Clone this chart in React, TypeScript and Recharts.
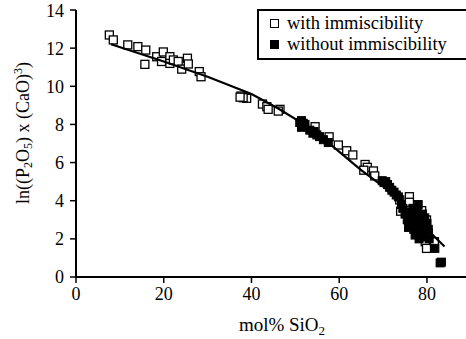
import React from "react";
import { ScatterChart, Scatter, XAxis, YAxis } from "recharts";

const withImm: { x: number; y: number }[] = [
  { x: 7.6, y: 12.69 }, { x: 8.5, y: 12.43 }, { x: 11.8, y: 12.17 }, { x: 14.1, y: 12.08 },
  { x: 15.9, y: 11.9 }, { x: 15.7, y: 11.15 }, { x: 18.4, y: 11.55 }, { x: 19.9, y: 11.8 },
  { x: 19.5, y: 11.3 }, { x: 21.4, y: 11.55 }, { x: 21.4, y: 11.2 }, { x: 22.2, y: 11.38 },
  { x: 23.3, y: 11.3 }, { x: 24.1, y: 10.9 }, { x: 25.4, y: 11.47 }, { x: 25.6, y: 11.17 },
  { x: 28.1, y: 10.77 }, { x: 28.5, y: 10.5 }, { x: 37.6, y: 9.49 }, { x: 38.9, y: 9.37 },
  { x: 38.1, y: 9.4 }, { x: 42.5, y: 9.07 }, { x: 43.5, y: 8.93 }, { x: 43.8, y: 8.79 },
  { x: 46.5, y: 8.79 }, { x: 46.1, y: 8.7 }, { x: 54.5, y: 7.88 }, { x: 57.7, y: 7.35 },
  { x: 59.8, y: 6.92 }, { x: 61.7, y: 6.62 }, { x: 63.1, y: 6.4 }, { x: 65.9, y: 5.9 },
  { x: 66.4, y: 5.75 }, { x: 65.6, y: 5.6 }, { x: 67.8, y: 5.56 }, { x: 68.1, y: 5.3 },
  { x: 73.8, y: 4.04 }, { x: 76.0, y: 4.21 }, { x: 76.0, y: 3.92 }, { x: 74.0, y: 3.45 },
  { x: 78.8, y: 3.48 }, { x: 78.5, y: 3.2 }, { x: 79.9, y: 2.99 }, { x: 80.3, y: 2.3 },
  { x: 79.6, y: 1.85 }, { x: 79.9, y: 1.5 }, { x: 81.7, y: 1.85 }, { x: 76.2, y: 3.35 },
  { x: 77.6, y: 2.63 }, { x: 76.8, y: 2.9 }, { x: 37.4, y: 9.43 },
];

const withoutImm: { x: number; y: number }[] = [
  { x: 51.4, y: 8.2 }, { x: 51.8, y: 8.06 }, { x: 51.4, y: 7.85 }, { x: 51.0, y: 8.1 },
  { x: 52.2, y: 8.0 }, { x: 53.3, y: 7.7 }, { x: 54.0, y: 7.54 }, { x: 54.9, y: 7.45 },
  { x: 55.5, y: 7.36 }, { x: 56.4, y: 7.2 }, { x: 57.5, y: 7.05 }, { x: 54.3, y: 7.63 },
  { x: 69.8, y: 5.05 }, { x: 70.2, y: 4.95 }, { x: 70.6, y: 5.0 }, { x: 71.0, y: 4.85 },
  { x: 71.5, y: 4.7 }, { x: 72.0, y: 4.55 }, { x: 72.5, y: 4.45 }, { x: 73.0, y: 4.3 },
  { x: 73.5, y: 4.2 }, { x: 74.2, y: 3.8 }, { x: 74.5, y: 3.6 }, { x: 75.0, y: 3.3 },
  { x: 75.5, y: 3.0 }, { x: 76.0, y: 3.4 }, { x: 76.3, y: 2.8 }, { x: 76.5, y: 3.1 },
  { x: 77.0, y: 2.5 }, { x: 77.0, y: 3.2 }, { x: 77.3, y: 2.2 }, { x: 77.5, y: 2.9 },
  { x: 77.8, y: 3.5 }, { x: 78.0, y: 3.8 }, { x: 78.0, y: 2.6 }, { x: 78.2, y: 2.0 },
  { x: 78.5, y: 3.0 }, { x: 78.7, y: 2.4 }, { x: 79.0, y: 3.3 }, { x: 79.0, y: 2.1 },
  { x: 79.3, y: 2.7 }, { x: 79.5, y: 3.1 }, { x: 79.8, y: 2.3 }, { x: 80.0, y: 2.8 },
  { x: 80.3, y: 2.5 }, { x: 80.5, y: 2.0 }, { x: 76.8, y: 3.6 }, { x: 75.8, y: 2.6 },
  { x: 81.8, y: 1.5 }, { x: 83.3, y: 0.78 }, { x: 83.0, y: 0.74 },
];

const fitLine: { x: number; y: number }[] = [
  { x: 8, y: 12.2 }, { x: 20, y: 11.3 }, { x: 30, y: 10.5 }, { x: 40, y: 9.6 },
  { x: 46, y: 8.85 }, { x: 52, y: 8.0 }, { x: 58, y: 6.95 }, { x: 65, y: 5.6 },
  { x: 70, y: 4.75 }, { x: 75, y: 3.7 }, { x: 80, y: 2.5 }, { x: 84, y: 1.6 },
];

const xTicks = [0, 20, 40, 60, 80];
const yTicks = [0, 2, 4, 6, 8, 10, 12, 14];

const FONT = "'Times New Roman', 'Liberation Serif', 'DejaVu Serif', serif";

const OpenSquare = (p: any) => (
  <rect x={p.cx - 4} y={p.cy - 4} width={8} height={8} fill="#fff" stroke="#000" strokeWidth={1.3} />
);
const FilledSquare = (p: any) => (
  <rect x={p.cx - 4} y={p.cy - 4} width={8} height={8} fill="#000" stroke="#000" strokeWidth={1} />
);
const NoShape = () => <g />;

const XLabel = () => (
  <text x={282} y={331} textAnchor="middle" fontFamily={FONT} fontSize={19} fill="#000">
    mol% SiO<tspan dy={4} fontSize={13}>2</tspan>
  </text>
);

const YLabel = () => (
  <text
    x={0}
    y={0}
    transform="translate(29,133) rotate(-90)"
    textAnchor="middle"
    fontFamily={FONT}
    fontSize={18}
    fill="#000"
  >
    ln((P<tspan dy={3} fontSize={12}>2</tspan>
    <tspan dy={-3}>O</tspan>
    <tspan dy={3} fontSize={12}>5</tspan>
    <tspan dy={-3}>) x (CaO)</tspan>
    <tspan dy={-7} fontSize={12}>3</tspan>
    <tspan dy={7}>)</tspan>
  </text>
);

export default function App() {
  return (
    <div style={{ position: "absolute", left: 0, top: 0, width: 466, height: 339, overflow: "hidden", background: "#fff" }}>
      <ScatterChart width={466} height={339} margin={{ top: 10, right: 0, bottom: 0, left: 0 }}>
        <XAxis
          type="number"
          dataKey="x"
          domain={[0, 88.9]}
          ticks={xTicks}
          allowDataOverflow
          height={62}
          tickSize={6}
          tickMargin={4}
          tick={{ fontFamily: FONT, fontSize: 18, fill: "#000" }}
          axisLine={{ stroke: "#000", strokeWidth: 2 }}
          tickLine={{ stroke: "#000", strokeWidth: 1.5 }}
          label={{ content: XLabel }}
        />
        <YAxis
          type="number"
          dataKey="y"
          domain={[0, 14]}
          ticks={yTicks}
          width={76}
          tickSize={6}
          tickMargin={6}
          tick={{ fontFamily: FONT, fontSize: 18, fill: "#000" }}
          axisLine={{ stroke: "#000", strokeWidth: 2 }}
          tickLine={{ stroke: "#000", strokeWidth: 1.5 }}
          label={{ content: YLabel }}
        />
        <Scatter data={withImm} shape={OpenSquare} isAnimationActive={false} />
        <Scatter data={withoutImm} shape={FilledSquare} isAnimationActive={false} />
        <Scatter
          data={fitLine}
          shape={NoShape}
          line={{ stroke: "#000", strokeWidth: 2.2 }}
          lineType="joint"
          isAnimationActive={false}
        />
      </ScatterChart>
      <div
        style={{
          position: "absolute",
          left: 257,
          top: 9,
          width: 220,
          height: 47,
          borderTop: "2px solid #000",
          borderLeft: "2px solid #000",
          borderBottom: "2px solid #000",
          background: "#fff",
          fontFamily: FONT,
          fontSize: 18.5,
          color: "#000",
        }}
      >
        <div style={{ position: "absolute", left: 11, top: 8, width: 7, height: 7, border: "1.3px solid #000", background: "#fff" }} />
        <div style={{ position: "absolute", left: 28, top: 1, lineHeight: "22px", whiteSpace: "nowrap" }}>with immiscibility</div>
        <div style={{ position: "absolute", left: 11, top: 29, width: 9, height: 9, background: "#000" }} />
        <div style={{ position: "absolute", left: 28, top: 22, lineHeight: "22px", whiteSpace: "nowrap" }}>without immiscibility</div>
      </div>
    </div>
  );
}
